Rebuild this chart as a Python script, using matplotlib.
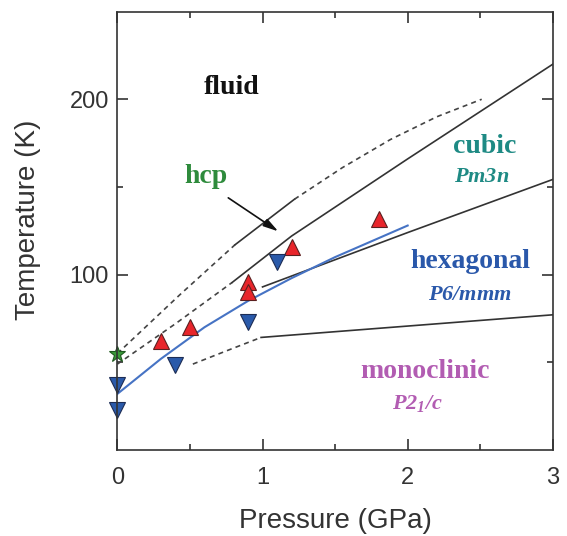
import numpy as np
import matplotlib
matplotlib.use('Agg')
import matplotlib.pyplot as plt
from matplotlib.ticker import MultipleLocator, FixedLocator

plt.rcParams['font.family'] = ['Liberation Sans', 'DejaVu Sans']
plt.rcParams['mathtext.fontset'] = 'custom'
plt.rcParams['mathtext.rm'] = 'Liberation Serif:bold:italic'
plt.rcParams['mathtext.it'] = 'Liberation Serif:bold:italic'

# boundary lines (pressure GPa, temperature K)
upper_dash1_p = [0.0, 0.43, 0.81]
upper_dash1_t = [55, 88.5, 117]
upper_solid_p = [0.81, 1.22]
upper_solid_t = [117, 143]
upper_dash2_p = [1.22, 1.55, 1.88, 2.2, 2.51]
upper_dash2_t = [143, 161, 177, 190, 200]

melt_dash_p = [0.0, 0.4, 0.79]
melt_dash_t = [49, 72, 95.5]
melt_p = [0.79, 1.2, 1.6, 2.0, 2.5, 3.0]
melt_t = [95.5, 122, 144, 166, 193, 220]

hexcub_p = [1.0, 2.0, 3.0]
hexcub_t = [93, 124, 154.3]

blue_line_p = [0.0, 0.3, 0.6, 0.9, 1.2, 1.5, 2.0]
blue_line_t = [32, 52, 70, 85, 98, 110, 128]

mono_dash_p = [0.52, 0.75, 0.99]
mono_dash_t = [49, 56.5, 64.2]
mono_p = [0.99, 3.0]
mono_t = [64.2, 77.1]

# data points
red_p = [0.30, 0.50, 0.90, 0.90, 1.20, 1.80]
red_t = [62, 70, 96, 90, 116, 132]
blue_p = [0.0, 0.0, 0.40, 0.90, 1.10]
blue_t = [37, 23, 48.5, 73, 107]
star_p = [0.0]
star_t = [55]

fig = plt.figure(figsize=(5.67, 5.36), dpi=100)
ax = fig.add_axes([0.207, 0.1604, 0.768, 0.818])

dash = dict(color='#444444', lw=1.2, dashes=(3, 2.5))
solid = dict(color='#333333', lw=1.2)

ax.plot(upper_dash1_p, upper_dash1_t, **dash)
ax.plot(upper_solid_p, upper_solid_t, **solid)
ax.plot(upper_dash2_p, upper_dash2_t, **dash)
ax.plot(melt_dash_p, melt_dash_t, **dash)
ax.plot(melt_p, melt_t, **solid)
ax.plot(hexcub_p, hexcub_t, **solid)
ax.plot(mono_dash_p, mono_dash_t, **dash)
ax.plot(mono_p, mono_t, **solid)
ax.plot(blue_line_p, blue_line_t, color='#4673c4', lw=1.5)

ax.plot(red_p, red_t, '^', ms=11, mfc='#e8252b', mec='#5a2020', mew=0.8, ls='none', clip_on=False)
ax.plot(blue_p, blue_t, 'v', ms=11, mfc='#2a5aaa', mec='#1d2d55', mew=0.8, ls='none', clip_on=False)
ax.plot(star_p, star_t, '*', ms=12, mfc='#3a9a3a', mec='#1f5a1f', mew=0.8, ls='none', clip_on=False)

# arrow to hcp region
ax.annotate('', xy=(1.108, 124.7), xytext=(0.764, 143.8),
            arrowprops=dict(arrowstyle='-|>,head_length=0.9,head_width=0.25',
                            color='#111111', lw=1.2, shrinkA=0, shrinkB=0))

serif = 'Liberation Serif'
ax.text(0.79, 206.7, 'fluid', family=serif, weight='bold', fontsize=20, color='#111111', ha='center', va='center')
ax.text(0.61, 156.2, 'hcp', family=serif, weight='bold', fontsize=20, color='#2e8b3c', ha='center', va='center')
ax.text(2.53, 173.3, 'cubic', family=serif, weight='bold', fontsize=20, color='#1e8a84', ha='center', va='center')
ax.text(2.51, 156.2, r'$Pm3n$', fontsize=16, color='#1e8a84', ha='center', va='center')
ax.text(2.43, 107.6, 'hexagonal', family=serif, weight='bold', fontsize=20, color='#2a58aa', ha='center', va='center')
ax.text(2.43, 88.6, r'$P6/mmm$', fontsize=16, color='#2a58aa', ha='center', va='center')
ax.text(2.12, 44.7, 'monoclinic', family=serif, weight='bold', fontsize=20, color='#b25cb2', ha='center', va='center')
ax.text(2.07, 26.7, r'$P2_1/c$', fontsize=16, color='#b25cb2', ha='center', va='center')

ax.set_xlim(0, 3)
ax.set_ylim(0, 250)
ax.xaxis.set_major_locator(MultipleLocator(1))
ax.xaxis.set_minor_locator(MultipleLocator(0.5))
ax.yaxis.set_major_locator(FixedLocator([100, 200]))
ax.yaxis.set_minor_locator(FixedLocator([50, 150]))

for s in ax.spines.values():
    s.set_color('#333333')
    s.set_linewidth(1.2)

ax.tick_params(which='both', direction='in', top=True, right=True, colors='#333333', labelcolor='#333333')
ax.tick_params(which='major', length=8, width=1.2, labelsize=17)
ax.tick_params(which='minor', length=4.5, width=1.2)
ax.tick_params(axis='x', which='major', pad=12)
ax.tick_params(axis='y', which='major', pad=6)

ax.set_xlabel('Pressure (GPa)', fontsize=20, color='#333333', labelpad=14)
ax.set_ylabel('Temperature (K)', fontsize=20, color='#333333')
ax.yaxis.set_label_coords(-0.175, 0.525)

fig.savefig('out.png', dpi=100)
